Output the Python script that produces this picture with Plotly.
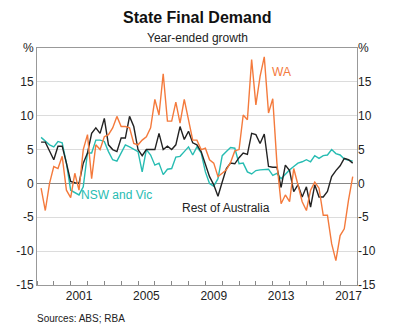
import pandas as pd
import plotly.graph_objects as go

# Quarterly, Mar 1999 to Sep 2017 (year-ended growth, %)
dates = pd.date_range("1999-03-31", periods=75, freq="QE")

wa = [-0.7, -4.0, 0.0, 2.5, 2.2, 4.0, -1.0, -2.1, 1.5, -1.0, 5.0, 7.2, 0.7, 5.7, 5.0, 6.9, 7.2, 8.2, 9.9, 8.4, 8.4,
      8.2, 5.9, 5.7, 6.4, 6.9, 8.2, 12.4, 10.1, 16.2, 9.2, 9.2, 12.0, 8.9, 12.4, 9.4, 6.4, 6.4, 5.0, 5.2, 3.5, 3.0, 1.0, 1.5, 2.0,
      3.1, 4.8, 5.0, 10.1, 9.4, 18.3, 11.6, 15.8, 18.7, 10.4, 12.5, 3.0, -3.0, -1.7, -2.7, 2.2, -0.2, -2.7, -4.0, -1.0,
      0.2, -0.7, -4.7, -4.7, -8.9, -11.4, -7.7, -6.7, -2.5, 1.0]

nsw_vic = [6.8, 6.2, 5.7, 5.4, 6.2, 6.0, 3.0, -1.0, -1.4, -1.7, -0.5, 4.5, 4.5, 6.4, 6.4, 6.2, 4.7, 3.5, 3.3, 4.5, 5.7,
           5.4, 5.0, 4.7, 1.7, 5.0, 4.2, 2.7, 3.0, 1.3, 2.1, 2.2, 3.9, 4.0, 4.7, 5.4, 4.2, 5.4, 4.5, 1.7, 0.0, -0.4, 0.7, 4.1, 4.7,
           5.3, 5.2, 2.9, 3.0, 1.7, 1.4, 1.9, 2.0, 2.1, 2.1, 1.2, 1.5, 0.7, 1.4, 2.0, 2.5, 3.0, 3.2, 3.5, 3.2,
           4.1, 3.7, 4.1, 4.2, 5.0, 4.4, 4.2, 3.6, 3.5, 3.3]

rest = [6.1, 6.1, 4.8, 3.5, 5.5, 5.5, 3.0, 0.3, 0.1, 0.0, 3.0, 4.5, 7.4, 8.2, 7.4, 9.6, 5.7, 5.0, 4.7, 6.7, 6.7,
        9.9, 8.4, 5.0, 4.1, 5.0, 5.0, 5.0, 7.4, 5.0, 5.5, 5.0, 5.7, 8.4, 6.5, 7.7, 6.0, 5.7, 4.7, 2.7, 1.0, -0.2, -1.9, 0.2, 2.2,
        3.0, 2.9, 3.8, 4.5, 4.3, 7.4, 7.2, 5.9, 7.3, 2.5, 2.4, 2.4, -0.6, 2.7, 1.9, -1.2, -0.2, -2.0, -0.5, -3.5,
        -0.2, -2.0, -2.0, -1.2, 1.0, 1.9, 2.6, 3.7, 3.5, 3.0]

year_labels = ["2001", "2005", "2009", "2013", "2017"]
label_pos = [f"{y}-07-01" for y in year_labels]
year_ticks = [f"{y}-01-01" for y in range(1999, 2019)]
y_ticks = [-15, -10, -5, 0, 5, 10, 15, 20]
y_text = ["-15", "-10", "-5", "0", "5", "10", "15", "%"]

ORANGE = "#f47a3c"
TEAL = "#27bcb2"
BLACK = "#222222"
FONT = "Liberation Sans, Arial, sans-serif"

fig = go.Figure()
fig.add_trace(go.Scatter(x=dates, y=nsw_vic, mode="lines", line=dict(color=TEAL, width=1.4), name="NSW and Vic"))
fig.add_trace(go.Scatter(x=dates, y=rest, mode="lines", line=dict(color=BLACK, width=1.4), name="Rest of Australia"))
fig.add_trace(go.Scatter(x=dates, y=wa, mode="lines", line=dict(color=ORANGE, width=1.4), name="WA"))
fig.add_trace(go.Scatter(x=[dates[0]], y=[None], yaxis="y2", mode="lines", showlegend=False, hoverinfo="skip"))

fig.update_layout(
    width=395, height=330,
    margin=dict(l=37, r=38, t=48, b=45),
    paper_bgcolor="white", plot_bgcolor="white",
    showlegend=False,
    font=dict(family=FONT, size=12, color="#222222"),
    xaxis=dict(
        range=["1999-01-01", "2018-01-01"],
        tickmode="array", tickvals=label_pos, ticktext=year_labels,
        ticks="", showgrid=False, zeroline=False,
        showline=True, mirror=True, linecolor="#999999", linewidth=1,
        tickfont=dict(size=12),
        minor=dict(tickmode="array", tickvals=year_ticks, ticks="inside", ticklen=4,
                   tickcolor="#888888", showgrid=False),
    ),
    yaxis=dict(
        range=[-15, 20], tickmode="array", tickvals=y_ticks, ticktext=y_text,
        ticks="", showgrid=True, gridcolor="#dcdcdc", gridwidth=1,
        zeroline=True, zerolinecolor="#888888", zerolinewidth=1,
        showline=True, mirror=True, linecolor="#999999", linewidth=1,
        tickfont=dict(size=12),
    ),
    yaxis2=dict(
        range=[-15, 20], overlaying="y", side="right", tickmode="array",
        tickvals=y_ticks, ticktext=y_text, ticks="", showgrid=False, zeroline=False,
        showline=False, tickfont=dict(size=12),
    ),
    annotations=[
        dict(text="<b>State Final Demand</b>", x=0.5, y=18, xref="paper", yref="paper",
             showarrow=False, font=dict(size=16, color="#111111")),
        dict(text="Year-ended growth", x=0.5, y=38, xref="paper", yref="paper",
             showarrow=False, font=dict(size=12)),
        dict(text="Sources: ABS; RBA", x=35, y=318, showarrow=False, xanchor="left",
             font=dict(size=10)),
        dict(text="WA", x="2012-11-01", y=16.5, showarrow=False, xanchor="left",
             font=dict(size=12, color=ORANGE)),
        dict(text="NSW and Vic", x="2001-07-01", y=-1.7, showarrow=False, xanchor="left",
             font=dict(size=12, color=TEAL)),
        dict(text="Rest of Australia", x="2007-07-01", y=-3.7, showarrow=False, xanchor="left",
             font=dict(size=12, color=BLACK)),
    ],
)

# Place title / subtitle / source in pixel positions via paper coords
H, T, B = 330, 48, 45
ph = H - T - B
def py(pix):
    return (H - B - pix) / ph
W, L, R = 395, 37, 38
pw = W - L - R
def px(pix):
    return (pix - L) / pw
anns = list(fig.layout.annotations)
anns[0].update(y=py(18), yanchor="middle")
anns[1].update(y=py(38), yanchor="middle")
anns[2].update(x=px(35), y=py(318), xref="paper", yref="paper", yanchor="middle")
fig.layout.annotations = anns

fig.write_html("out.html")
